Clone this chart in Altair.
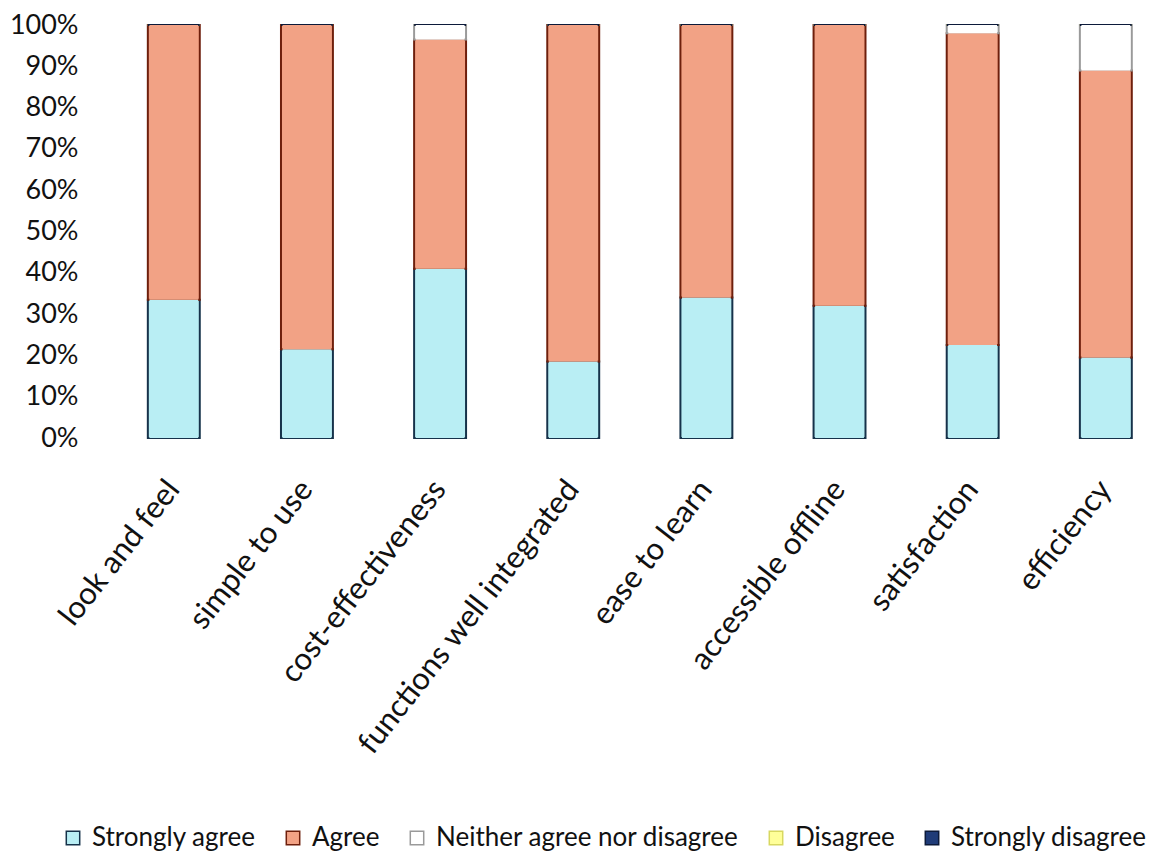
import altair as alt
import pandas as pd

# Survey aspects (x categories)
aspects = [
    "look and feel",
    "simple to use",
    "cost-effectiveness",
    "functions well integrated",
    "ease to learn",
    "accessible offline",
    "satisfaction",
    "efficiency",
]

# Response categories, bottom of the stack first
responses = [
    "Strongly agree",
    "Agree",
    "Neither agree nor disagree",
    "Disagree",
    "Strongly disagree",
]

# Share of respondents per aspect (%)
strongly_agree = [33.5, 21.5, 41.0, 18.5, 34.0, 32.0, 22.5, 19.5]
agree = [66.5, 78.5, 55.5, 81.5, 66.0, 68.0, 75.5, 69.5]
neither = [0.0, 0.0, 3.5, 0.0, 0.0, 0.0, 2.0, 11.0]
disagree = [0.0, 0.0, 0.0, 0.0, 0.0, 0.0, 0.0, 0.0]
strongly_disagree = [0.0, 0.0, 0.0, 0.0, 0.0, 0.0, 0.0, 0.0]

series = [strongly_agree, agree, neither, disagree, strongly_disagree]

fills = ["#b9eef4", "#f2a285", "#ffffff", "#ffff99", "#1f3b78"]
edges = ["#16324a", "#6e1f0c", "#9a9a9a", "#d8d860", "#0c1a3a"]

rows = []
for r_idx, (resp, vals) in enumerate(zip(responses, series)):
    for aspect, v in zip(aspects, vals):
        rows.append({"aspect": aspect, "response": resp, "order": r_idx, "value": v})
df = pd.DataFrame(rows)

FONT = "Lato"

x_enc = alt.X(
    "aspect:N",
    sort=aspects,
    title=None,
    scale=alt.Scale(paddingInner=0.61, paddingOuter=0.248, align=0.8),
    axis=alt.Axis(
        labelAngle=-52,
        labelAlign="right",
        labelBaseline="middle",
        labelPadding=46,
        labelFont=FONT,
        labelFontSize=31,
        labelColor="#111111",
        labelLimit=500,
        ticks=False,
        domain=False,
        grid=False,
    ),
)

y_enc = alt.Y(
    "value:Q",
    stack="normalize",
    title=None,
    scale=alt.Scale(domain=[0, 1], nice=False),
    axis=alt.Axis(
        format=".0%",
        values=[i / 10 for i in range(11)],
        labelFont=FONT,
        labelFontSize=27,
        labelColor="#111111",
        labelPadding=17,
        ticks=False,
        domain=False,
        grid=False,
    ),
)

legend_style = dict(
    title=None,
    orient="none",
    direction="horizontal",
    legendX=-35,
    legendY=800,
    symbolType="square",
    symbolSize=180,
    symbolStrokeWidth=1.5,
    labelFont=FONT,
    labelFontSize=26,
    labelColor="#111111",
    labelOffset=6,
    columnPadding=24,
    labelLimit=500,
)

# Outlined segments (also carry the legend)
outlined = (
    alt.Chart(df)
    .mark_bar(strokeWidth=2)
    .encode(
        x=x_enc,
        y=y_enc,
        order=alt.Order("order:Q"),
        fill=alt.Fill(
            "response:N",
            sort=responses,
            scale=alt.Scale(domain=responses, range=fills),
            legend=alt.Legend(**legend_style),
        ),
        stroke=alt.Stroke(
            "response:N",
            sort=responses,
            scale=alt.Scale(domain=responses, range=edges),
            legend=alt.Legend(**legend_style),
        ),
    )
)

# Slightly narrower fill on top hides the edges between stacked segments
inner = (
    alt.Chart(df)
    .mark_bar(width=alt.RelativeBandSize(0.94), strokeWidth=0)
    .encode(
        x=x_enc,
        y=y_enc,
        order=alt.Order("order:Q"),
        fill=alt.Fill(
            "response:N",
            sort=responses,
            scale=alt.Scale(domain=responses, range=fills),
            legend=None,
        ),
    )
)

chart = (
    alt.layer(outlined, inner)
    .properties(
        width=1050,
        height=413,
        background="white",
        autosize=alt.AutoSizeParams(type="none"),
        padding={"left": 95, "top": 25, "right": 8, "bottom": 424},
    )
    .configure_view(stroke=None, strokeWidth=0)
)

chart.save("out.html", embed_options={"renderer": "svg", "actions": False})
